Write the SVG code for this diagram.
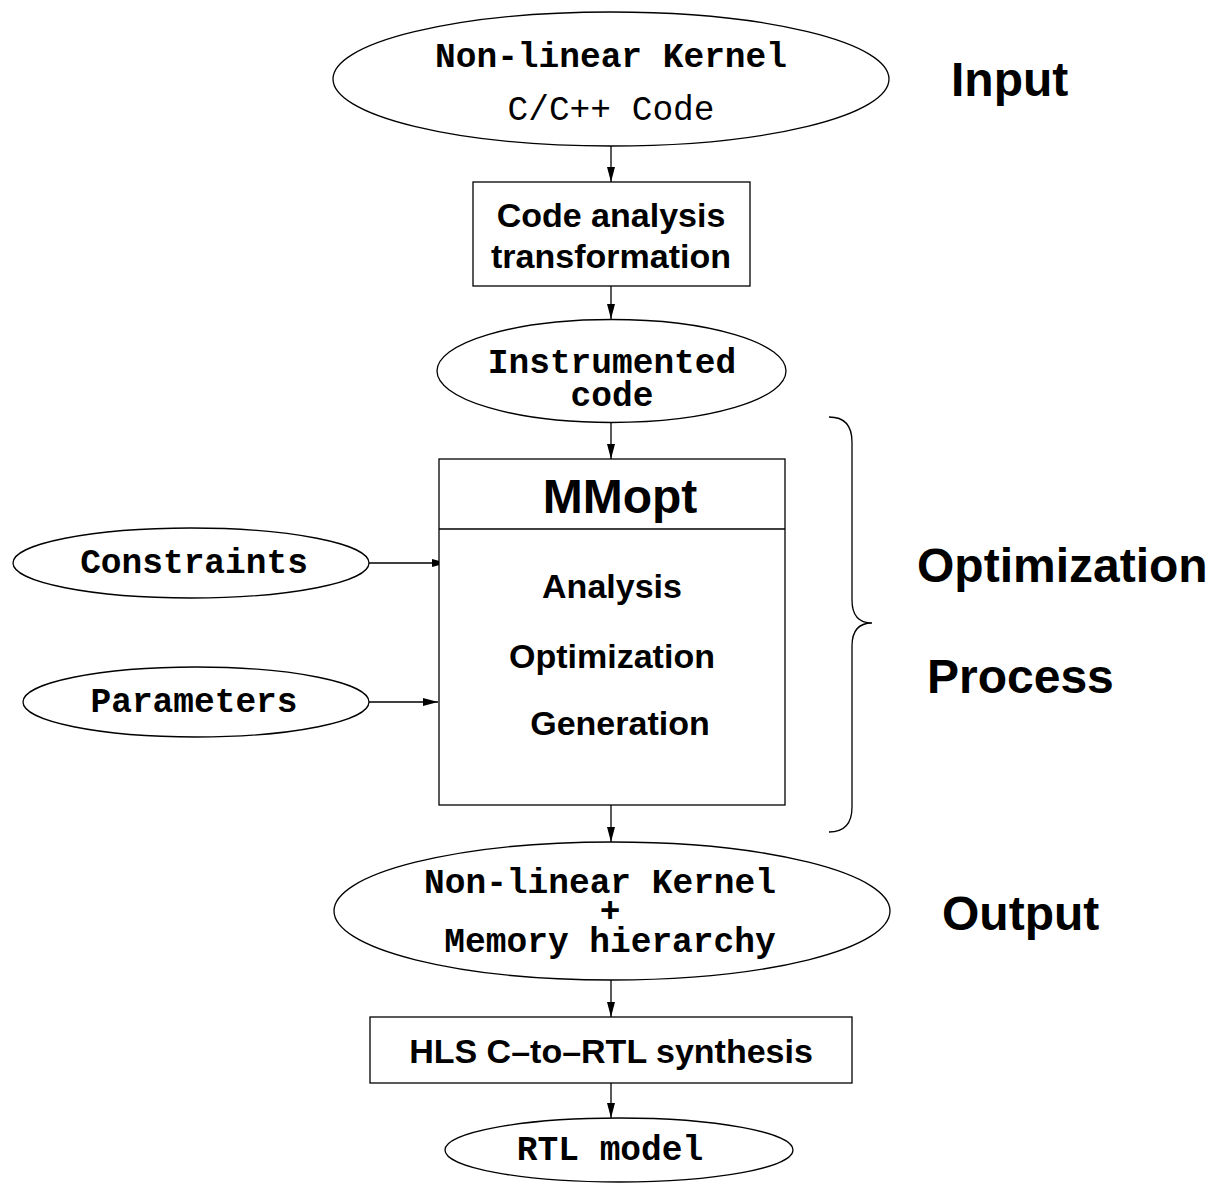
<svg xmlns="http://www.w3.org/2000/svg" width="1212" height="1184" viewBox="0 0 1212 1184">
<style>
.shape{fill:#fff;stroke:#000;stroke-width:1.3}
.mono{font-family:"Liberation Mono","Courier New",monospace;font-size:34.5px;font-weight:bold;fill:#000}
.monor{font-family:"Liberation Mono","Courier New",monospace;font-size:34.5px;font-weight:normal;fill:#000}
.sans{font-family:"Liberation Sans",Arial,sans-serif;font-size:34px;font-weight:bold;fill:#000}
.big{font-family:"Liberation Sans",Arial,sans-serif;font-size:48px;font-weight:bold;fill:#000}
.conn{stroke:#000;stroke-width:1.3;fill:none}
</style>
<defs>
<marker id="arr" markerWidth="15" markerHeight="8" refX="15" refY="4" orient="auto" markerUnits="userSpaceOnUse">
<path d="M0,0 L15,4 L0,8 z" fill="#000"/>
</marker>
</defs>
<rect width="1212" height="1184" fill="#fff"/>
<g id="connectors">
<line class="conn" x1="611" y1="146" x2="611" y2="182" marker-end="url(#arr)"/>
<line class="conn" x1="611" y1="286" x2="611" y2="319" marker-end="url(#arr)"/>
<line class="conn" x1="611" y1="422" x2="611" y2="459" marker-end="url(#arr)"/>
<line class="conn" x1="369" y1="563" x2="447" y2="563" marker-end="url(#arr)"/>
<line class="conn" x1="369" y1="702" x2="438" y2="702" marker-end="url(#arr)"/>
<line class="conn" x1="611" y1="805" x2="611" y2="842" marker-end="url(#arr)"/>
<line class="conn" x1="611" y1="980" x2="611" y2="1017" marker-end="url(#arr)"/>
<line class="conn" x1="611" y1="1083" x2="611" y2="1118" marker-end="url(#arr)"/>
</g>
<g id="input">
<ellipse class="shape" cx="611" cy="79" rx="278" ry="67"/>
<text class="mono" x="611" y="67" text-anchor="middle">Non-linear Kernel</text>
<text class="monor" x="611" y="120" text-anchor="middle">C/C++ Code</text>
</g>
<g id="code-analysis">
<rect class="shape" x="473" y="182" width="277" height="104"/>
<text class="sans" x="611" y="227" text-anchor="middle">Code analysis</text>
<text class="sans" x="611" y="268" text-anchor="middle">transformation</text>
</g>
<g id="instrumented">
<ellipse class="shape" cx="611.5" cy="371" rx="174.5" ry="51.5"/>
<text class="mono" x="612" y="373" text-anchor="middle">Instrumented</text>
<text class="mono" x="612" y="406" text-anchor="middle">code</text>
</g>
<g id="mmopt">
<rect class="shape" x="439" y="459" width="346" height="346"/>
<line class="conn" x1="439" y1="529" x2="785" y2="529"/>
<text class="big" x="620" y="513" text-anchor="middle">MMopt</text>
<text class="sans" x="612" y="598" text-anchor="middle">Analysis</text>
<text class="sans" x="612" y="668" text-anchor="middle">Optimization</text>
<text class="sans" x="620" y="735" text-anchor="middle">Generation</text>
</g>
<g id="constraints">
<ellipse class="shape" cx="191" cy="563" rx="178" ry="35"/>
<text class="mono" x="194" y="573" text-anchor="middle">Constraints</text>
</g>
<g id="parameters">
<ellipse class="shape" cx="196" cy="702" rx="173" ry="35"/>
<text class="mono" x="194" y="712" text-anchor="middle">Parameters</text>
</g>
<g id="output">
<ellipse class="shape" cx="612" cy="911" rx="278" ry="69"/>
<text class="mono" x="600" y="893" text-anchor="middle">Non-linear Kernel</text>
<text class="mono" x="610" y="922" text-anchor="middle">+</text>
<text class="mono" x="610" y="952" text-anchor="middle">Memory hierarchy</text>
</g>
<g id="hls">
<rect class="shape" x="370" y="1017" width="482" height="66"/>
<text class="sans" x="611" y="1063" text-anchor="middle">HLS C–to–RTL synthesis</text>
</g>
<g id="rtl">
<ellipse class="shape" cx="619" cy="1150" rx="174" ry="32"/>
<text class="mono" x="610" y="1160" text-anchor="middle">RTL model</text>
</g>
<g id="brace">
<path class="conn" d="M829 417 Q852 417 852 442 L852 600 Q852 623 872 623 Q852 623 852 646 L852 807 Q852 832 829 832"/>
</g>
<g id="labels">
<text class="big" x="951" y="96">Input</text>
<text class="big" x="917" y="582">Optimization</text>
<text class="big" x="927" y="693">Process</text>
<text class="big" x="942" y="930">Output</text>
</g>
</svg>
